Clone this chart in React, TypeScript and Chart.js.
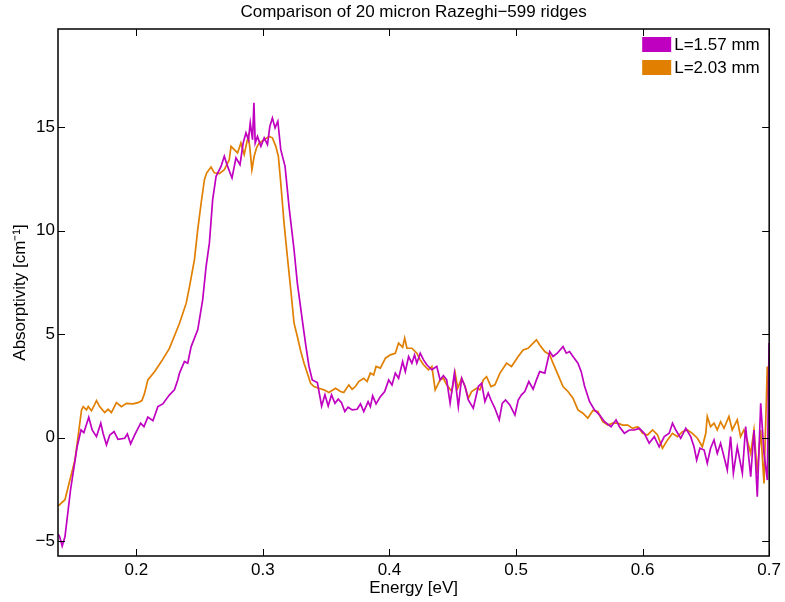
import React, { useEffect, useRef } from "react";
import { Chart, registerables } from "chart.js";

Chart.register(...registerables);

const TITLE = "Comparison of 20 micron Razeghi−599 ridges";
const X_LABEL = "Energy [eV]";
const Y_LABEL = "Absorptivity [cm⁻¹]";
const SERIES_NAMES = ["L=1.57 mm", "L=2.03 mm"];
const SERIES_COLORS = ["#C000C0", "#E07F00"];
const X_MIN = 0.1381;
const X_MAX = 0.7;
const Y_MIN = -5.72;
const Y_MAX = 19.75;
const X_TICKS = [0.2, 0.3, 0.4, 0.5, 0.6, 0.7];
const X_TICK_LABELS = ["0.2", "0.3", "0.4", "0.5", "0.6", "0.7"];
const Y_TICKS = [-5, 0, 5, 10, 15];
const Y_TICK_LABELS = ["−5", "0", "5", "10", "15"];

const energy157 = [
  0.1383, 0.1395, 0.1414, 0.1436, 0.148, 0.1532, 0.1563, 0.1585, 0.1624, 0.1651,
  0.1685, 0.1719, 0.1737, 0.1764, 0.179, 0.1824, 0.1855, 0.1908, 0.1929, 0.1955,
  0.1987, 0.2034, 0.206, 0.2091, 0.2131, 0.217, 0.2209, 0.2262, 0.2301, 0.2327,
  0.2341, 0.238, 0.2406, 0.2433, 0.2485, 0.2524, 0.2551, 0.2577, 0.2603, 0.263,
  0.2669, 0.2695, 0.2721, 0.2756, 0.2787, 0.2819, 0.2844, 0.2866, 0.2886, 0.29,
  0.2918, 0.2929, 0.2939, 0.2957, 0.2984, 0.301, 0.3036, 0.3055, 0.3075, 0.3096,
  0.3118, 0.3141, 0.3175, 0.3206, 0.3246, 0.3272, 0.3311, 0.3338, 0.3364, 0.339,
  0.343, 0.3464, 0.349, 0.3516, 0.3542, 0.3569, 0.3595, 0.3621, 0.3647, 0.3673,
  0.3705, 0.3744, 0.3771, 0.3797, 0.3831, 0.3849, 0.3867, 0.3894, 0.3928, 0.3962,
  0.3994, 0.402, 0.4046, 0.4072, 0.4104, 0.4125, 0.4151, 0.4177, 0.4198, 0.4216,
  0.4243, 0.4269, 0.4295, 0.4334, 0.4374, 0.44, 0.4426, 0.4452, 0.4479, 0.4513,
  0.4544, 0.457, 0.4597, 0.4623, 0.4662, 0.4702, 0.4728, 0.4754, 0.478, 0.4802,
  0.4833, 0.4867, 0.4891, 0.4917, 0.4951, 0.4991, 0.5017, 0.5043, 0.5069, 0.5101,
  0.5135, 0.5161, 0.5187, 0.5227, 0.5266, 0.5292, 0.5326, 0.5371, 0.5397, 0.5423,
  0.545, 0.5489, 0.5515, 0.5541, 0.5581, 0.562, 0.5659, 0.5699, 0.5751, 0.579,
  0.5817, 0.5856, 0.5895, 0.5935, 0.5974, 0.6013, 0.6052, 0.6092, 0.6131, 0.6171,
  0.621, 0.6236, 0.6262, 0.6301, 0.6341, 0.638, 0.6406, 0.6427, 0.6453, 0.6486,
  0.6511, 0.6537, 0.6564, 0.659, 0.6616, 0.6643, 0.6669, 0.6695, 0.6717, 0.6748,
  0.6788, 0.6814, 0.6854, 0.688, 0.6906, 0.6933, 0.6959, 0.6985, 0.6999,
];
const absorp157 = [
  -4.66, -4.8, -5.24, -4.79, -2.53, -0.44, 0.37, 0.24, 0.99, 0.37,
  0.05, 0.7, 0.21, -0.35, 0.13, 0.29, -0.08, -0.03, 0.18, -0.3,
  0.13, 0.7, 0.53, 0.99, 0.82, 1.5, 1.63, 2.07, 2.31, 2.79,
  3.12, 3.68, 3.6, 4.4, 5.21, 6.66, 8.27, 9.4, 11.5, 12.63,
  13.11, 13.6, 13.11, 12.55, 13.52, 13.19, 14.24, 14.73, 14.4, 15.21,
  14.4, 16.18, 14.24, 14.56, 14.08, 14.49, 14.16, 15.05, 15.45, 14.97,
  15.29, 13.92, 13.11, 11.18, 9.08, 7.47, 5.69, 4.5, 3.44, 2.79,
  2.66, 1.53, 2.07, 1.53, 2.07, 1.66, 1.86, 1.69, 1.26, 1.47,
  1.34, 1.37, 1.63, 1.26, 1.74, 1.5, 2.02, 1.63, 1.98, 2.23,
  2.79, 2.55, 3.12, 2.87, 3.68, 3.19, 3.92, 3.6, 4.0, 3.6,
  4.08, 3.76, 3.52, 3.28, 3.44, 2.79, 3.0, 2.79, 1.66, 3.12,
  1.5, 2.87, 2.47, 1.82, 1.42, 2.47, 2.63, 1.74, 2.15, 1.82,
  1.42, 0.86, 1.66, 1.82, 1.58, 1.1, 1.82, 2.07, 2.23, 2.71,
  2.34, 2.79, 3.19, 3.12, 4.16, 3.92, 4.08, 4.4, 4.08, 4.16,
  3.92, 3.6, 3.19, 2.5, 1.74, 1.34, 1.1, 0.77, 0.53, 0.86,
  0.53, 0.21, 0.37, 0.37, 0.45, 0.21, -0.27, 0.05, -0.44, 0.05,
  0.21, 0.7, 0.37, -0.03, 0.45, 0.05, -0.44, -1.08, -0.51, -0.6,
  -1.24, -0.51, -0.11, -0.76, -0.27, -0.92, -1.56, 0.05, -1.72, -0.44,
  -1.72, 0.53, -1.89, 0.37, -2.85, 1.66, -0.76, -2.05, 4.57,
];

const energy203 = [
  0.1383, 0.1436, 0.1475, 0.1515, 0.1567, 0.158, 0.1606, 0.162, 0.1646, 0.1685,
  0.171, 0.175, 0.1777, 0.1803, 0.1843, 0.1882, 0.1921, 0.1973, 0.2013, 0.2044,
  0.2065, 0.2091, 0.2145, 0.22, 0.226, 0.23, 0.2341, 0.2394, 0.242, 0.2459,
  0.2485, 0.2512, 0.2538, 0.2556, 0.259, 0.2616, 0.2656, 0.2695, 0.2734, 0.2748,
  0.2774, 0.28, 0.2826, 0.2852, 0.2866, 0.2884, 0.2897, 0.2913, 0.2931, 0.2949,
  0.297, 0.301, 0.3049, 0.3075, 0.3102, 0.3122, 0.3141, 0.3167, 0.3193, 0.322,
  0.3246, 0.3272, 0.3298, 0.3325, 0.3377, 0.3403, 0.3443, 0.3482, 0.3521, 0.3574,
  0.3613, 0.3639, 0.3679, 0.3705, 0.3731, 0.3757, 0.3797, 0.3823, 0.3849, 0.3875,
  0.3894, 0.3928, 0.3968, 0.4007, 0.4046, 0.4072, 0.4104, 0.412, 0.4138, 0.4177,
  0.4216, 0.4243, 0.4269, 0.4308, 0.4335, 0.4361, 0.44, 0.4426, 0.4452, 0.4492,
  0.4519, 0.4539, 0.457, 0.4597, 0.4623, 0.4649, 0.4689, 0.4715, 0.4741, 0.4767,
  0.4802, 0.4833, 0.4873, 0.4925, 0.4964, 0.5017, 0.5056, 0.5095, 0.5135, 0.5161,
  0.5187, 0.5227, 0.5266, 0.5292, 0.5332, 0.5371, 0.541, 0.545, 0.5489, 0.5528,
  0.5567, 0.5607, 0.5646, 0.5685, 0.5725, 0.5764, 0.5803, 0.5843, 0.5882, 0.5921,
  0.5961, 0.6, 0.6039, 0.6079, 0.6118, 0.6157, 0.6197, 0.6236, 0.6275, 0.6315,
  0.6354, 0.6393, 0.6433, 0.6472, 0.6499, 0.6511, 0.6537, 0.6564, 0.659, 0.6616,
  0.6643, 0.6682, 0.6708, 0.6748, 0.6774, 0.68, 0.6826, 0.6854, 0.688, 0.6906,
  0.6933, 0.6959, 0.6985, 0.6999,
];
const absorp203 = [
  -3.3, -3.0, -2.05, -1.08, 1.34, 1.5, 1.34, 1.5, 1.3, 1.79,
  1.5, 1.21, 1.37, 1.21, 1.69, 1.5, 1.66, 1.63, 1.69, 1.79,
  2.15, 2.79, 3.2, 3.7, 4.3, 4.9, 5.53, 6.5, 7.3, 8.6,
  10.05, 11.34, 12.47, 12.8, 13.08, 12.8, 12.76, 12.95, 13.43, 14.08,
  13.92, 13.76, 14.24, 13.68, 14.08, 14.56, 14.0, 12.95, 13.6, 14.0,
  14.24, 14.4, 14.56, 14.49, 14.08, 13.6, 12.31, 10.37, 8.76, 7.15,
  5.53, 4.89, 4.2, 3.6, 2.63, 2.47, 2.39, 2.31, 2.18, 2.39,
  2.23, 2.18, 2.55, 2.34, 2.47, 2.71, 2.87, 2.71, 3.12, 3.03,
  3.44, 3.36, 3.84, 4.0, 4.08, 4.57, 4.37, 4.81, 4.32, 4.32,
  4.08, 3.76, 3.52, 3.28, 3.44, 2.31, 2.79, 2.87, 2.55, 2.23,
  3.12, 2.39, 2.87, 2.47, 1.91, 2.23, 2.39, 2.31, 2.79, 2.95,
  2.47, 2.55, 3.12, 3.6, 3.44, 3.92, 4.24, 4.32, 4.57, 4.73,
  4.48, 4.16, 4.0, 3.6, 3.03, 2.47, 2.23, 1.91, 1.34, 1.18,
  0.94, 1.31, 1.26, 0.77, 0.61, 0.7, 0.7, 0.61, 0.61, 0.45,
  0.53, 0.21, 0.13, 0.37, 0.13, -0.51, -0.11, 0.21, 0.05, 0.29,
  0.37, 0.21, -0.03, -0.44, 0.21, 1.02, 0.53, 0.7, 0.37, 0.77,
  0.45, 1.02, 0.37, 0.86, 0.05, 0.37, -0.11, -0.76, 0.37, -1.72,
  0.37, -2.21, 3.44, 0.86,
];

const FONT_FAMILY = "'Liberation Sans', Arial, Helvetica, sans-serif";

const framePlugin = {
  id: "matlabFrame",
  afterDatasetsDraw(chart: any) {
    const { ctx, chartArea: a, scales } = chart;
    ctx.save();
    ctx.strokeStyle = "#000";
    ctx.lineWidth = 1;
    const tl = 7;
    ctx.beginPath();
    X_TICKS.forEach((v) => {
      const px = Math.round(scales.x.getPixelForValue(v)) + 0.5;
      ctx.moveTo(px, a.bottom);
      ctx.lineTo(px, a.bottom - tl);
      ctx.moveTo(px, a.top);
      ctx.lineTo(px, a.top + tl);
    });
    Y_TICKS.forEach((v) => {
      const py = Math.round(scales.y.getPixelForValue(v)) + 0.5;
      ctx.moveTo(a.left, py);
      ctx.lineTo(a.left + tl, py);
      ctx.moveTo(a.right, py);
      ctx.lineTo(a.right - tl, py);
    });
    ctx.stroke();
    ctx.lineWidth = 1.5;
    ctx.strokeRect(a.left, a.top, a.right - a.left, a.bottom - a.top);

    // legend
    ctx.font = `17px ${FONT_FAMILY}`;
    ctx.textBaseline = "middle";
    ctx.textAlign = "left";
    chart.data.datasets.forEach((ds: any, i: number) => {
      const y0 = a.top + 8 + i * 23;
      ctx.fillStyle = ds.borderColor;
      ctx.fillRect(a.right - 127, y0, 29, 15);
      ctx.fillStyle = "#000";
      ctx.fillText(ds.label, a.right - 95, y0 + 8);
    });
    ctx.restore();
  },
};

export default function App() {
  const canvasRef = useRef<HTMLCanvasElement | null>(null);

  useEffect(() => {
    if (!canvasRef.current) return;
    const mk = (xs: number[], ys: number[]) => xs.map((x, i) => ({ x, y: ys[i] }));
    const chart = new Chart(canvasRef.current, {
      type: "scatter",
      data: {
        datasets: [
          {
            label: SERIES_NAMES[0],
            data: mk(energy157, absorp157),
            showLine: true,
            borderColor: SERIES_COLORS[0],
            backgroundColor: SERIES_COLORS[0],
            borderWidth: 1.7,
            pointRadius: 0,
            tension: 0,
          },
          {
            label: SERIES_NAMES[1],
            data: mk(energy203, absorp203),
            showLine: true,
            borderColor: SERIES_COLORS[1],
            backgroundColor: SERIES_COLORS[1],
            borderWidth: 1.7,
            pointRadius: 0,
            tension: 0,
          },
        ],
      },
      options: {
        responsive: false,
        animation: false,
        devicePixelRatio: 1,
        layout: { padding: { top: 0, right: 13, left: 0, bottom: 0 } },
        plugins: {
          legend: { display: false },
          tooltip: { enabled: false },
          title: {
            display: true,
            text: TITLE,
            fullSize: false,
            color: "#000",
            font: { family: FONT_FAMILY, size: 17, weight: "normal" },
            padding: { top: 2, bottom: 6.6 },
          },
        },
        scales: {
          x: {
            type: "linear",
            position: "bottom",
            min: X_MIN,
            max: X_MAX,
            grid: { display: false, drawTicks: false },
            border: { display: false },
            afterBuildTicks: (s: any) => {
              s.ticks = X_TICKS.map((v) => ({ value: v }));
            },
            afterFit: (s: any) => {
              s.height = 46;
            },
            ticks: {
              autoSkip: false,
              maxRotation: 0,
              padding: 4,
              color: "#000",
              font: { family: FONT_FAMILY, size: 17 },
              callback: (_v: any, i: number) => X_TICK_LABELS[i],
            },
            title: {
              display: true,
              text: X_LABEL,
              color: "#000",
              font: { family: FONT_FAMILY, size: 17 },
              padding: { top: 0, bottom: 3 },
            },
          },
          y: {
            type: "linear",
            min: Y_MIN,
            max: Y_MAX,
            grid: { display: false, drawTicks: false },
            border: { display: false },
            afterBuildTicks: (s: any) => {
              s.ticks = Y_TICKS.map((v) => ({ value: v }));
            },
            afterFit: (s: any) => {
              s.width = 58;
            },
            ticks: {
              padding: 3,
              color: "#000",
              font: { family: FONT_FAMILY, size: 17 },
              callback: (_v: any, i: number) => Y_TICK_LABELS[i],
            },
            title: {
              display: true,
              text: Y_LABEL,
              color: "#000",
              font: { family: FONT_FAMILY, size: 17 },
              padding: { top: 10, bottom: 0 },
            },
          },
        },
      },
      plugins: [framePlugin],
    });
    return () => chart.destroy();
  }, []);

  return (
    <div style={{ position: "absolute", left: 0, top: 0, width: 785, height: 602, background: "#fff" }}>
      <canvas ref={canvasRef} width={785} height={602} />
    </div>
  );
}
